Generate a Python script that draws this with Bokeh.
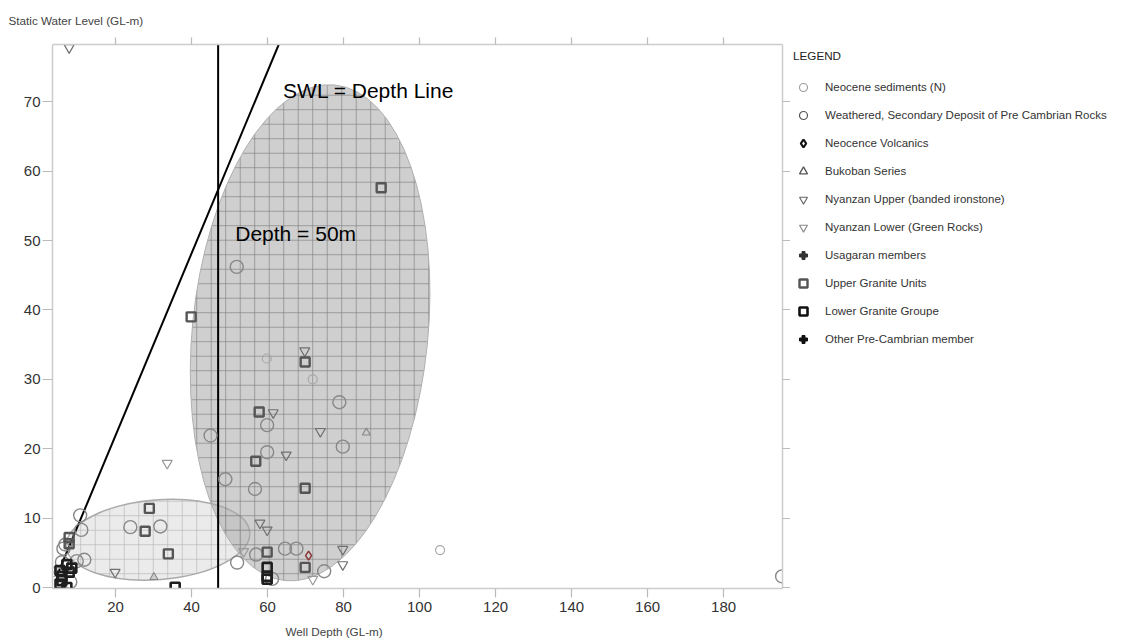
from bokeh.plotting import figure
from bokeh.layouts import row
from bokeh.models import Range1d, LinearAxis, FixedTicker, Label, Legend, LegendItem, Title
from bokeh.embed import file_html
from bokeh.resources import INLINE

FONT = "Liberation Sans"
NAN = float("nan")

# ---------------- data ----------------
x_ticks = [20, 40, 60, 80, 100, 120, 140, 160, 180]
y_ticks = [0, 10, 20, 30, 40, 50, 60, 70]

neo_sed_x = [59.8, 71.9, 105.4, 3.7, 5.0]
neo_sed_y = [33.0, 30.0, 5.4, 2.2, 2.2]

weathered_x = [51.9, 78.9, 59.9, 45.0, 79.8, 59.9, 48.9, 56.7, 57.0, 64.6, 67.6, 52.0,
               74.9, 61.2, 195.4, 23.9, 31.8, 11.0, 10.7, 6.3, 9.8, 11.8, 5.9, 8.1, 6.8]
weathered_y = [46.2, 26.7, 23.4, 21.9, 20.3, 19.5, 15.6, 14.2, 4.75, 5.6, 5.6, 3.6,
               2.35, 1.25, 1.6, 8.7, 8.8, 8.3, 10.4, 5.6, 3.8, 4.0, 3.65, 0.8, 6.2]

volcanics_x = [70.8]
volcanics_y = [4.6]

bukoban_x = [86.0, 30.1]
bukoban_y = [22.3, 1.5]

nyanzan_up_x = [69.8, 61.5, 73.9, 64.9, 58.0, 59.9, 79.8, 79.8, 19.9, 7.8]
nyanzan_up_y = [34.1, 25.2, 22.5, 19.1, 9.3, 8.3, 5.5, 3.3, 2.2, 77.8]

nyanzan_low_x = [53.7, 71.9, 33.6]
nyanzan_low_y = [5.2, 1.2, 17.9]

usagaran_x = []
usagaran_y = []

upper_granite_x = [89.9, 39.9, 69.9, 57.8, 56.9, 69.9, 28.9, 27.8, 33.9, 59.9, 69.9, 7.8, 7.8]
upper_granite_y = [57.6, 39.0, 32.5, 25.3, 18.2, 14.3, 11.4, 8.1, 4.85, 5.1, 2.9, 7.2, 6.3]

lower_granite_x = [59.9, 59.9, 59.9, 35.7, 7.2, 8.5, 7.8, 5.4, 7.2, 5.9, 5.9, 5.4]
lower_granite_y = [2.9, 1.6, 1.2, 0.05, 3.3, 2.8, 2.2, 2.45, 0.0, 1.6, 1.0, 0.5]

other_x = []
other_y = []

series_labels = [
    "Neocene sediments (N)",
    "Weathered, Secondary Deposit of Pre Cambrian Rocks",
    "Neocence Volcanics",
    "Bukoban Series",
    "Nyanzan Upper (banded ironstone)",
    "Nyanzan Lower (Green Rocks)",
    "Usagaran members",
    "Upper Granite Units",
    "Lower Granite Groupe",
    "Other Pre-Cambrian member",
]

# legend swatches: a single non-plotted (NaN) key per series
legend_key_x = [NAN]
legend_key_y = [NAN]

# reference lines
swl_line_x = [4.6, 63.0]
swl_line_y = [1.7, 78.3]
depth50_x = [47.0, 47.0]
depth50_y = [-1.0, 80.0]

# grouping zones (ellipses): big zone, small zone
zone_x = [71.2, 31.2]
zone_y = [36.7, 6.9]
zone_w = [62.0, 48.4]
zone_h = [71.8, 11.5]
zone_angle = [-0.10, 0.08]

# ---------------- styles ----------------
styles = [
    dict(marker="circle", size=9, fill_color=None, line_color="#a8a8a8", line_width=1.2),
    dict(marker="circle", size=13, fill_color=None, line_color="#888888", line_width=1.4),
    dict(marker="diamond", size=9, fill_color=None, line_color="#8b3a3a", line_width=1.6),
    dict(marker="triangle", size=8, fill_color="#cccccc", line_color="#888888", line_width=1.1),
    dict(marker="inverted_triangle", size=10, fill_color=None, line_color="#707070", line_width=1.2),
    dict(marker="inverted_triangle", size=10, fill_color=None, line_color="#999999", line_width=1.2),
    dict(marker="plus", size=9, fill_color="#444444", line_color="#444444", line_width=1),
    dict(marker="square", size=9, fill_color=None, line_color="#555555", line_width=2.4),
    dict(marker="square", size=9, fill_color=None, line_color="#1e1e1e", line_width=2.6),
    dict(marker="plus", size=9, fill_color="#111111", line_color="#111111", line_width=1),
]
legend_styles = [
    dict(marker="circle", fill_color=None, line_color="#999999", line_width=1.1),
    dict(marker="circle", fill_color=None, line_color="#555555", line_width=1.2),
    dict(marker="diamond", fill_color=None, line_color="#111111", line_width=2.2),
    dict(marker="triangle", fill_color=None, line_color="#555555", line_width=1.3),
    dict(marker="inverted_triangle", fill_color=None, line_color="#666666", line_width=1.1),
    dict(marker="inverted_triangle", fill_color=None, line_color="#888888", line_width=1.1),
    dict(marker="plus", fill_color="#333333", line_color="#333333", line_width=1),
    dict(marker="square", fill_color=None, line_color="#555555", line_width=2.4),
    dict(marker="square", fill_color=None, line_color="#111111", line_width=2.6),
    dict(marker="plus", fill_color="#111111", line_color="#111111", line_width=1),
]
series_xy = [
    (neo_sed_x, neo_sed_y), (weathered_x, weathered_y), (volcanics_x, volcanics_y),
    (bukoban_x, bukoban_y), (nyanzan_up_x, nyanzan_up_y), (nyanzan_low_x, nyanzan_low_y),
    (usagaran_x, usagaran_y), (upper_granite_x, upper_granite_y),
    (lower_granite_x, lower_granite_y), (other_x, other_y),
]

# ---------------- main figure ----------------
p = figure(frame_width=730, frame_height=544,
           x_range=Range1d(3.42, 195.5), y_range=Range1d(-0.14, 78.24),
           output_backend="svg", toolbar_location=None,
           min_border_left=52, min_border_top=44, min_border_bottom=56, min_border_right=0,
           background_fill_color="white", border_fill_color="white",
           outline_line_color=None)
p.grid.visible = False

# zones
p.ellipse(x=zone_x[1], y=zone_y[1], width=zone_w[1], height=zone_h[1], angle=zone_angle[1],
          fill_color="#d8d8d8", fill_alpha=0.5, line_color="#aaaaaa", line_width=1.5,
          hatch_pattern="+", hatch_scale=14.5, hatch_color="#b5b5b5", hatch_weight=0.8, hatch_alpha=0.8)
p.ellipse(x=zone_x[0], y=zone_y[0], width=zone_w[0], height=zone_h[0], angle=zone_angle[0],
          fill_color="#a8a8a8", fill_alpha=0.55, line_color="#b0b0b0", line_width=1,
          hatch_pattern="+", hatch_scale=14.5, hatch_color="#777777", hatch_weight=0.8, hatch_alpha=0.75)

# reference lines
p.line(depth50_x, depth50_y, line_color="black", line_width=2)
p.line(swl_line_x, swl_line_y, line_color="black", line_width=2)

# series
for (sx, sy), st in zip(series_xy, styles):
    p.scatter(sx, sy, **st)

# axes
def style_axis(ax, ticks, tick_out, standoff, show_labels):
    ax.ticker = FixedTicker(ticks=ticks)
    ax.axis_line_color = "#cccccc"
    ax.axis_line_width = 1.5
    ax.major_tick_line_color = "#bbbbbb"
    ax.major_tick_line_width = 1.2
    ax.major_tick_out = tick_out
    ax.major_tick_in = 0
    ax.minor_tick_line_color = None
    ax.major_label_standoff = standoff
    if show_labels:
        ax.major_label_text_font = FONT
        ax.major_label_text_font_size = "15px"
        ax.major_label_text_color = "#333333"
    else:
        ax.major_label_text_font_size = "0px"
        ax.major_label_text_color = None

style_axis(p.xaxis[0], x_ticks, 9, 4, True)
style_axis(p.yaxis[0], y_ticks, 10, 2, True)

top_axis = LinearAxis()
style_axis(top_axis, x_ticks, 7, 0, False)
p.add_layout(top_axis, "above")

right_axis = LinearAxis()
style_axis(right_axis, y_ticks, 8, 0, False)
p.add_layout(right_axis, "right")

# axis titles
p.add_layout(Title(text="Static Water Level (GL-m)", align="left", offset=-44, standoff=22,
                   text_font=FONT, text_font_size="11.7px", text_font_style="normal",
                   text_color="#444444"), "above")
p.add_layout(Title(text="Well Depth (GL-m)", align="left", offset=233, standoff=17,
                   text_font=FONT, text_font_size="11.7px", text_font_style="normal",
                   text_color="#444444"), "below")

# annotations
p.add_layout(Label(x=64.1, y=73.3, text="SWL = Depth Line", text_font=FONT,
                   text_font_size="21px", text_color="black", text_baseline="top"))
p.add_layout(Label(x=51.5, y=52.7, text="Depth = 50m", text_font=FONT,
                   text_font_size="21px", text_color="black", text_baseline="top"))

# ---------------- legend panel ----------------
lf = figure(width=331, height=644, output_backend="svg", toolbar_location=None,
            x_range=Range1d(0, 1), y_range=Range1d(0, 1),
            x_axis_type=None, y_axis_type=None, min_border=0,
            outline_line_color=None, background_fill_color="white", border_fill_color="white")
lf.grid.visible = False

items = []
for label, st in zip(series_labels, legend_styles):
    r = lf.scatter(legend_key_x, legend_key_y, **st)
    items.append(LegendItem(label=label, renderers=[r]))

legend = Legend(items=items, location=(3, 237), title="LEGEND",
                margin=0, padding=5, spacing=8,
                glyph_width=20, glyph_height=20, label_height=20, label_standoff=12,
                title_standoff=15, border_line_color=None, background_fill_alpha=0,
                label_text_font=FONT, label_text_font_size="11.5px", label_text_color="#333333",
                title_text_font=FONT, title_text_font_size="11.7px",
                title_text_font_style="normal", title_text_color="#222222")
lf.add_layout(legend)

layout = row(p, lf)

with open("out.html", "w") as f:
    f.write(file_html(layout, INLINE))
